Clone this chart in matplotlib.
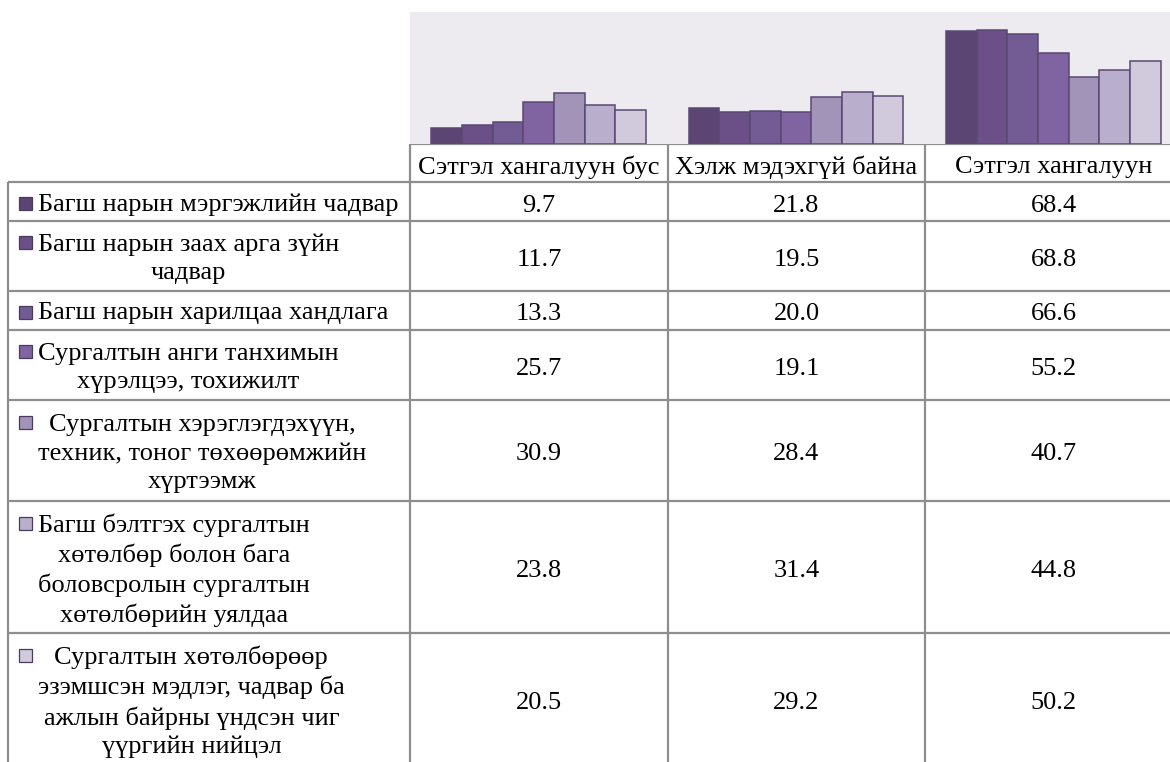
import numpy as np
import matplotlib
matplotlib.use("Agg")
import matplotlib.pyplot as plt
from matplotlib.patches import Rectangle

plt.rcParams['font.family'] = ['Liberation Serif', 'DejaVu Serif']

categories = ['Сэтгэл хангалуун бус', 'Хэлж мэдэхгүй байна', 'Сэтгэл хангалуун']

series_labels = [
    'Багш нарын мэргэжлийн чадвар',
    'Багш нарын заах арга зүйн\nчадвар',
    'Багш нарын харилцаа хандлага',
    'Сургалтын анги танхимын\nхүрэлцээ, тохижилт',
    'Сургалтын хэрэглэгдэхүүн,\nтехник, тоног төхөөрөмжийн\nхүртээмж',
    'Багш бэлтгэх сургалтын\nхөтөлбөр болон бага\nболовсролын сургалтын\nхөтөлбөрийн уялдаа',
    'Сургалтын хөтөлбөрөөр\nэзэмшсэн мэдлэг, чадвар ба\nажлын байрны үндсэн чиг\nүүргийн нийцэл',
]

not_satisfied = [9.7, 11.7, 13.3, 25.7, 30.9, 23.8, 20.5]
dont_know = [21.8, 19.5, 20.0, 19.1, 28.4, 31.4, 29.2]
satisfied = [68.4, 68.8, 66.6, 55.2, 40.7, 44.8, 50.2]

colors = ['#5B4572', '#6A5087', '#735C94', '#8064A2', '#A294B9', '#B9AFCC', '#D0CADC']

W, H = 1170, 762
fig = plt.figure(figsize=(W / 100, H / 100), dpi=100)

# table grid in pixel coordinates
col_x = [8, 410, 668, 925, 1182]
head_top, head_bot = 144, 182
line_h = 30

# bar chart sitting on top of the table
ax = fig.add_axes([col_x[1] / W, 1 - head_top / H, (col_x[4] - col_x[1]) / W, (head_top - 12) / H])
ax.set_facecolor('#EDEBF0')
values = np.array([not_satisfied, dont_know, satisfied])
x = np.arange(len(categories))
n = len(series_labels)
bw = 0.833 / n
for i in range(n):
    ax.bar(x + (i - (n - 1) / 2) * bw, values[:, i], width=bw, color=colors[i],
           edgecolor='#5A4874', linewidth=1.1)
ax.set_xlim(-0.5, 2.5)
ax.set_ylim(0, 80)
ax.set_xticks([])
ax.set_yticks([])
for s in ax.spines.values():
    s.set_visible(False)

tab = fig.add_axes([0, 0, 1, 1], zorder=-1)
tab.set_xlim(0, W)
tab.set_ylim(H, 0)
tab.axis('off')

lc, lw = '#8E8E8E', 1.6
fs = 19
dy = 4

# header row
tab.hlines(head_top, col_x[1], W, color=lc, lw=lw)
for j, c in enumerate(categories):
    tab.text((col_x[j + 1] + col_x[j + 2]) / 2, (head_top + head_bot) / 2 + dy, c,
             ha='center', va='center', fontsize=fs)

# body rows
y = head_bot
for i, lab in enumerate(series_labels):
    nl = lab.count('\n') + 1
    h = 8 + 31 * nl
    tab.hlines(y, col_x[0], W, color=lc, lw=lw)
    yc = y + h / 2
    tab.text(38, yc + dy - 1, lab, ha='left', va='center', multialignment='center',
             fontsize=fs, linespacing=1.36)
    y_first = yc - (nl - 1) / 2 * line_h
    tab.add_patch(Rectangle((19, y_first - 5), 13, 13, facecolor=colors[i],
                            edgecolor='#4A3A5E', lw=0.9))
    for j in range(3):
        tab.text((col_x[j + 1] + col_x[j + 2]) / 2, yc + dy, f'{values[j, i]:.1f}',
                 ha='center', va='center', fontsize=fs)
    y += h

tab.vlines(col_x[0], head_bot, H, color=lc, lw=lw)
for cx in col_x[1:4]:
    tab.vlines(cx, head_top, H, color=lc, lw=lw)

fig.savefig('out.png', dpi=100, facecolor='white')
